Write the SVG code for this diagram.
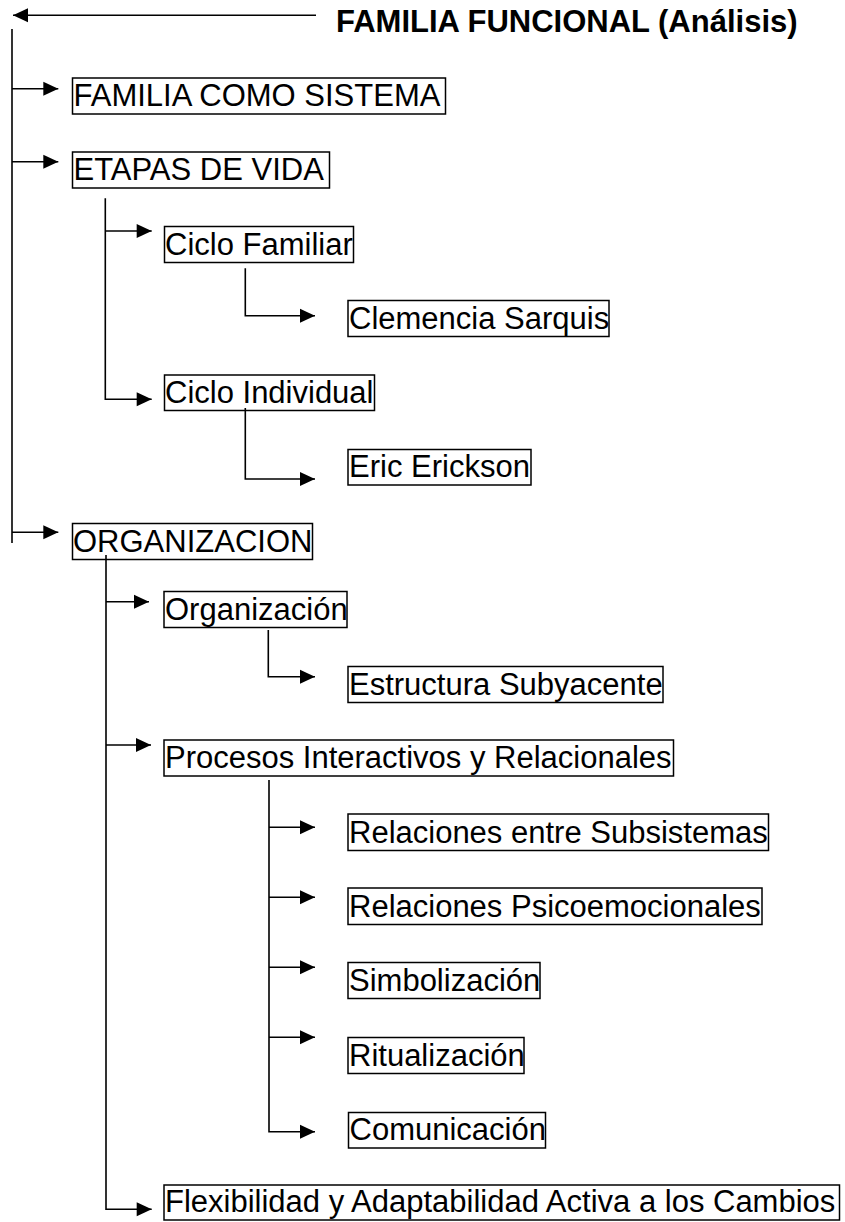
<svg xmlns="http://www.w3.org/2000/svg" width="845" height="1222" viewBox="0 0 845 1222">
<style>
.box{fill:none;stroke:#000;stroke-width:1.5}
.lbl{font-family:"Liberation Sans",Arial,sans-serif;font-size:31px;fill:#000}
.title{font-family:"Liberation Sans",Arial,sans-serif;font-size:31px;font-weight:bold;fill:#000}
.ln{fill:none;stroke:#000;stroke-width:1.6}
</style>
<defs>
<marker id="ah" markerUnits="userSpaceOnUse" markerWidth="16" markerHeight="14" refX="15" refY="7" orient="auto" overflow="visible">
<path d="M0,0 L15,7 L0,14 Z" fill="#000"/>
</marker>
</defs>
<rect width="845" height="1222" fill="#fff"/>
<g id="connectors">
<path class="ln" d="M316,15.3 H13" marker-end="url(#ah)"/>
<path class="ln" d="M12,29 V543"/>
<path class="ln" d="M12,88.7 H58.3" marker-end="url(#ah)"/>
<path class="ln" d="M12,161.7 H58.3" marker-end="url(#ah)"/>
<path class="ln" d="M12,532.3 H58.3" marker-end="url(#ah)"/>
<path class="ln" d="M105.3,198.3 V399.3 H151.7" marker-end="url(#ah)"/>
<path class="ln" d="M105.3,231 H151.7" marker-end="url(#ah)"/>
<path class="ln" d="M245.3,268.3 V315.7 H315" marker-end="url(#ah)"/>
<path class="ln" d="M245.3,408 V479 H315" marker-end="url(#ah)"/>
<path class="ln" d="M106,555 V1209.3 H151.7" marker-end="url(#ah)"/>
<path class="ln" d="M106,601.7 H149" marker-end="url(#ah)"/>
<path class="ln" d="M106,745 H151" marker-end="url(#ah)"/>
<path class="ln" d="M268.3,630 V676.7 H315" marker-end="url(#ah)"/>
<path class="ln" d="M269,780 V1131.7 H315" marker-end="url(#ah)"/>
<path class="ln" d="M269,827.3 H315" marker-end="url(#ah)"/>
<path class="ln" d="M269,897.3 H315" marker-end="url(#ah)"/>
<path class="ln" d="M269,967.3 H315" marker-end="url(#ah)"/>
<path class="ln" d="M269,1037.3 H315" marker-end="url(#ah)"/>
</g>
<g id="title"><text class="title" x="336" y="32">FAMILIA FUNCIONAL (Análisis)</text></g>
<g id="n-familia-sistema"><rect class="box" x="72.5" y="78" width="373" height="36"/><text class="lbl" x="73.5" y="106">FAMILIA COMO SISTEMA</text></g>
<g id="n-etapas"><rect class="box" x="72.5" y="152" width="257" height="36"/><text class="lbl" x="73.5" y="180">ETAPAS DE VIDA</text></g>
<g id="n-ciclo-familiar"><rect class="box" x="164.5" y="226.5" width="189" height="36"/><text class="lbl" x="165" y="254.5">Ciclo Familiar</text></g>
<g id="n-clemencia"><rect class="box" x="348" y="300.5" width="261" height="36"/><text class="lbl" x="349" y="328.5">Clemencia Sarquis</text></g>
<g id="n-ciclo-individual"><rect class="box" x="164.5" y="375" width="210" height="35.5"/><text class="lbl" x="165" y="402.5">Ciclo Individual</text></g>
<g id="n-eric"><rect class="box" x="348" y="449.5" width="183" height="35.5"/><text class="lbl" x="349" y="477">Eric Erickson</text></g>
<g id="n-organizacion-main"><rect class="box" x="72.5" y="523.5" width="240" height="36"/><text class="lbl" x="73" y="551.5">ORGANIZACION</text></g>
<g id="n-organizacion"><rect class="box" x="164" y="591.5" width="183" height="36"/><text class="lbl" x="165" y="619.5">Organización</text></g>
<g id="n-estructura"><rect class="box" x="348" y="666.5" width="315" height="36"/><text class="lbl" x="349" y="694.5">Estructura Subyacente</text></g>
<g id="n-procesos"><rect class="box" x="164" y="740" width="509.5" height="36"/><text class="lbl" x="165" y="768">Procesos Interactivos y Relacionales</text></g>
<g id="n-rel-subsistemas"><rect class="box" x="348" y="814" width="420.5" height="36.5"/><text class="lbl" x="349" y="842.5">Relaciones entre Subsistemas</text></g>
<g id="n-rel-psico"><rect class="box" x="348" y="888" width="414" height="36.5"/><text class="lbl" x="349" y="916.5">Relaciones Psicoemocionales</text></g>
<g id="n-simbolizacion"><rect class="box" x="348" y="962.5" width="192" height="36"/><text class="lbl" x="349" y="990.5">Simbolización</text></g>
<g id="n-ritualizacion"><rect class="box" x="348" y="1037.5" width="176" height="36"/><text class="lbl" x="349" y="1065.5">Ritualización</text></g>
<g id="n-comunicacion"><rect class="box" x="348.5" y="1112.5" width="197" height="35.5"/><text class="lbl" x="349.5" y="1140">Comunicación</text></g>
<g id="n-flexibilidad"><rect class="box" x="164" y="1185" width="675.5" height="35"/><text class="lbl" x="165" y="1212">Flexibilidad y Adaptabilidad Activa a los Cambios</text></g>
</svg>
